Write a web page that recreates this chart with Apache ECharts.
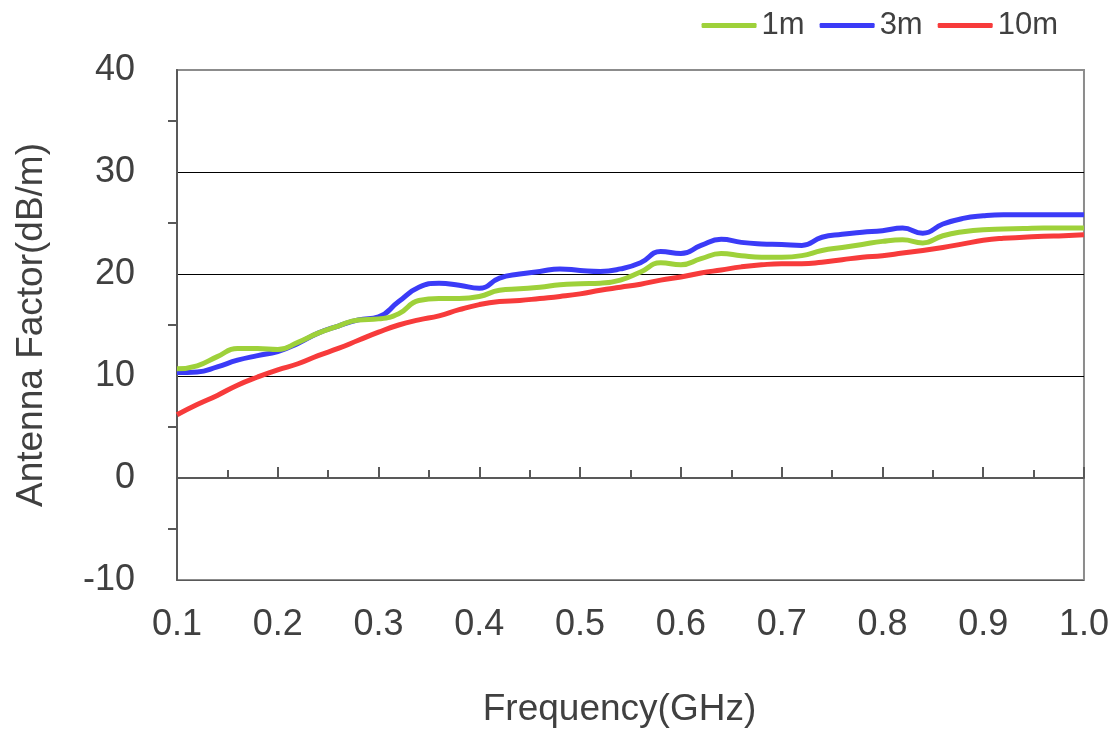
<!DOCTYPE html>
<html><head><meta charset="utf-8">
<script src="https://cdn.jsdelivr.net/npm/echarts@6/dist/echarts.min.js"></script>
<style>html,body{margin:0;padding:0;background:#fff}#c{width:1112px;height:733px}</style>
</head><body><div id="c"></div>
<script>
const freq = [0.10,0.12,0.14,0.16,0.18,0.20,0.22,0.24,0.26,0.28,0.30,0.32,0.34,0.36,0.38,0.40,0.42,0.44,0.46,0.48,0.50,0.52,0.54,0.56,0.58,0.60,0.62,0.64,0.66,0.68,0.70,0.72,0.74,0.76,0.78,0.80,0.82,0.84,0.86,0.88,0.90,0.92,0.94,0.96,0.98,1.00];
const af1m = [10.7,11.0,11.9,12.7,12.7,12.6,13.3,14.2,14.9,15.5,15.6,16.1,17.4,17.6,17.6,17.8,18.4,18.55,18.7,18.95,19.05,19.1,19.4,20.2,21.1,20.9,21.5,22.0,21.8,21.65,21.65,21.8,22.3,22.6,22.9,23.2,23.35,23.05,23.75,24.15,24.35,24.4,24.45,24.5,24.5,24.5];
const af3m = [10.35,10.4,10.9,11.55,12.0,12.4,13.2,14.2,14.9,15.5,15.8,17.3,18.7,19.1,18.9,18.6,19.6,20.0,20.25,20.5,20.35,20.25,20.5,21.1,22.2,22.0,22.8,23.4,23.1,22.95,22.9,22.8,23.6,23.9,24.1,24.25,24.5,24.0,24.9,25.45,25.7,25.8,25.8,25.8,25.8,25.8];
const af10m = [6.2,7.2,8.1,9.1,9.9,10.6,11.2,12.0,12.7,13.5,14.3,15.0,15.5,15.9,16.5,17.0,17.3,17.4,17.6,17.8,18.05,18.4,18.7,19.0,19.4,19.7,20.1,20.4,20.7,20.9,21.0,21.0,21.15,21.4,21.65,21.8,22.05,22.3,22.6,22.95,23.3,23.5,23.6,23.7,23.75,23.85];
const seriesNames = ['1m','3m','10m'];
const seriesColors = ['#9ed13a','#3b3bf7','#f73b3b'];

const pair = arr => freq.map((f,i)=>[f,arr[i]]);
const font = 'Liberation Sans, Arial, sans-serif';
const chart = echarts.init(document.getElementById('c'));
chart.setOption({
  animation:false,
  backgroundColor:'#fff',
  grid:{left:177,top:70,right:25,bottom:151,show:true,borderColor:'#8c8c8c',borderWidth:2},
  legend:{
    right:49,top:5,itemWidth:55,itemHeight:5,itemGap:15,
    textStyle:{fontSize:31,color:'#404040',fontFamily:font},
    icon:'roundRect',
    data:seriesNames
  },
  xAxis:{
    type:'value',min:0.1,max:1.0,interval:0.1,
    name:'Frequency(GHz)',nameLocation:'middle',nameGap:111,
    nameTextStyle:{fontSize:37,color:'#404040',fontFamily:font,padding:[0,22,0,0]},
    axisLine:{show:true,lineStyle:{color:'#595959',width:2}},
    axisTick:{show:true,inside:true,length:11,lineStyle:{color:'#595959',width:2}},
    minorTick:{show:true,splitNumber:2,length:8,lineStyle:{color:'#595959',width:2}},
    axisLabel:{fontSize:36,color:'#404040',fontFamily:font,margin:27,formatter:v=>v.toFixed(1)},
    splitLine:{show:false}
  },
  yAxis:{
    type:'value',min:-10,max:40,interval:10,
    name:'Antenna Factor(dB/m)',nameLocation:'middle',nameGap:127,
    nameTextStyle:{fontSize:37,color:'#404040',fontFamily:font},
    axisLine:{show:true,lineStyle:{color:'#595959',width:2}},
    axisTick:{show:false},
    minorTick:{show:true,splitNumber:2,length:9,lineStyle:{color:'#595959',width:2}},
    axisLabel:{fontSize:36,color:'#404040',fontFamily:font,margin:42},
    splitLine:{show:true,lineStyle:{color:['#595959','#000','#000','#000','#000','#8c8c8c'],width:1.2}}
  },
  series:[af1m,af3m,af10m].map((arr,i)=>({
    name:seriesNames[i],type:'line',data:pair(arr),smooth:0.5,showSymbol:false,
    lineStyle:{width:5,color:seriesColors[i]},itemStyle:{color:seriesColors[i]},
    z:3-i
  }))
});
</script></body></html>
